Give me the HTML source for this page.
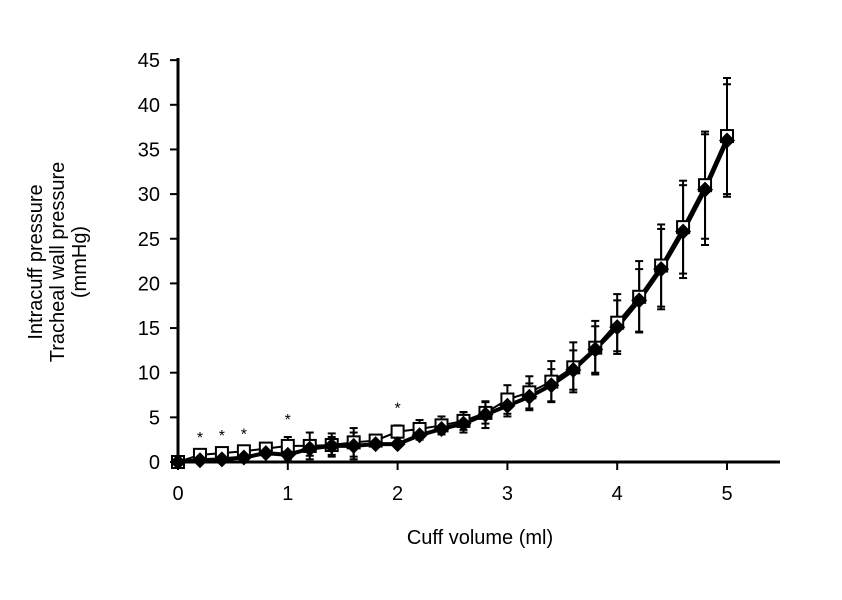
<!DOCTYPE html>
<html><head><meta charset="utf-8"><style>
body{margin:0;background:#fff}
svg text{font-family:"Liberation Sans",sans-serif;fill:#000}
</style></head><body>
<svg id="c" width="842" height="595">
<g id="axes"></g><g id="marks"></g>
<text x="480" y="544" font-size="20" text-anchor="middle">Cuff volume (ml)</text>
<g transform="translate(58,262) rotate(-90)">
<text x="0" y="-16" font-size="20" text-anchor="middle">Intracuff pressure</text>
<text x="0" y="6" font-size="20" text-anchor="middle">Tracheal wall pressure</text>
<text x="0" y="28" font-size="20" text-anchor="middle">(mmHg)</text>
</g>
</svg>
<script>
const volumes=[0,0.2,0.4,0.6,0.8,1.0,1.2,1.4,1.6,1.8,2.0,2.2,2.4,2.6,2.8,3.0,3.2,3.4,3.6,3.8,4.0,4.2,4.4,4.6,4.8,5.0];
const intracuff=[0,0.8,1.0,1.2,1.5,1.8,1.8,1.9,2.2,2.4,3.4,3.7,4.1,4.6,5.5,7.0,7.8,9.0,10.6,12.8,15.6,18.5,22.0,26.3,31.0,36.5];
const intracuffErr=[0,0,0,0,0.5,1.0,1.5,1.3,1.6,0.5,0.7,1.0,1.0,1.0,1.2,1.6,1.8,2.3,2.8,3.0,3.2,4.0,4.6,5.2,6.0,6.5];
const tracheal=[0,0.2,0.3,0.5,1.0,0.8,1.5,1.8,1.8,2.0,2.0,3.0,3.7,4.3,5.3,6.3,7.3,8.6,10.3,12.6,15.1,18.1,21.6,25.8,30.5,36.0];
const trachealErr=[0,0,0,0,0.3,0.5,0.8,1.0,1.5,0.3,0.3,0.5,0.6,1.0,1.5,1.2,1.5,1.8,2.2,2.6,3.0,3.5,4.5,5.2,6.2,6.3];
const starVols=[0.2,0.4,0.6,1.0,2.0];
const xTicks=[0,1,2,3,4,5];
const yTicks=[0,5,10,15,20,25,30,35,40,45];
const NS='http://www.w3.org/2000/svg';
const X=v=>178+v*109.8, Y=v=>462-v*8.93;
function mk(t,a,p){const e=document.createElementNS(NS,t);for(const k in a)e.setAttribute(k,a[k]);p.appendChild(e);return e;}
const ax=document.getElementById('axes'), mg=document.getElementById('marks');
let e=mk('line',{x1:178,y1:462,x2:780,y2:462,stroke:'#000','stroke-width':3},ax);


e=mk('line',{x1:178,y1:58,x2:178,y2:462,stroke:'#000','stroke-width':3},ax);


xTicks.forEach(t=>{mk('line',{x1:X(t),y1:462,x2:X(t),y2:470,stroke:'#000','stroke-width':2},ax);
 const tx=mk('text',{x:X(t),y:500,'font-size':20,'text-anchor':'middle'},ax);tx.textContent=t;
 
 });
yTicks.forEach(t=>{mk('line',{x1:170,y1:Y(t),x2:178,y2:Y(t),stroke:'#000','stroke-width':2},ax);
 const tx=mk('text',{x:160,y:Y(t)+7,'font-size':20,'text-anchor':'end'},ax);tx.textContent=t;
 
 });
function errs(vals,er){vals.forEach((v,i)=>{if(!er[i])return;const x=X(volumes[i]);
 mk('line',{x1:x,y1:Y(v+er[i]),x2:x,y2:Y(v-er[i]),stroke:'#000','stroke-width':2},mg);
 [v+er[i],v-er[i]].forEach(w=>mk('line',{x1:x-4,y1:Y(w),x2:x+4,y2:Y(w),stroke:'#000','stroke-width':2},mg));});}
errs(intracuff,intracuffErr);errs(tracheal,trachealErr);
let l=mk('polyline',{points:volumes.map((v,i)=>X(v)+','+Y(intracuff[i])).join(' '),fill:'none',stroke:'#000','stroke-width':2},mg);


l=mk('polyline',{points:volumes.map((v,i)=>X(v)+','+Y(tracheal[i])).join(' '),fill:'none',stroke:'#000','stroke-width':4},mg);


intracuff.forEach((v,i)=>{const s=mk('rect',{x:X(volumes[i])-6,y:Y(v)-6,width:12,height:12,fill:'#fff',stroke:'#000','stroke-width':2},mg);
 
 });
tracheal.forEach((v,i)=>{const x=X(volumes[i]),y=Y(v);const d=mk('polygon',{points:`${x},${y-8} ${x+8},${y} ${x},${y+8} ${x-8},${y}`,fill:'#000'},mg);
 
 });
starVols.forEach(sv=>{const i=volumes.indexOf(sv);const t=mk('text',{x:X(sv),y:Y(intracuff[i]+intracuffErr[i])-12,'font-size':16,'text-anchor':'middle'},mg);
 t.textContent='*';
 
 });
</script>
</body></html>
